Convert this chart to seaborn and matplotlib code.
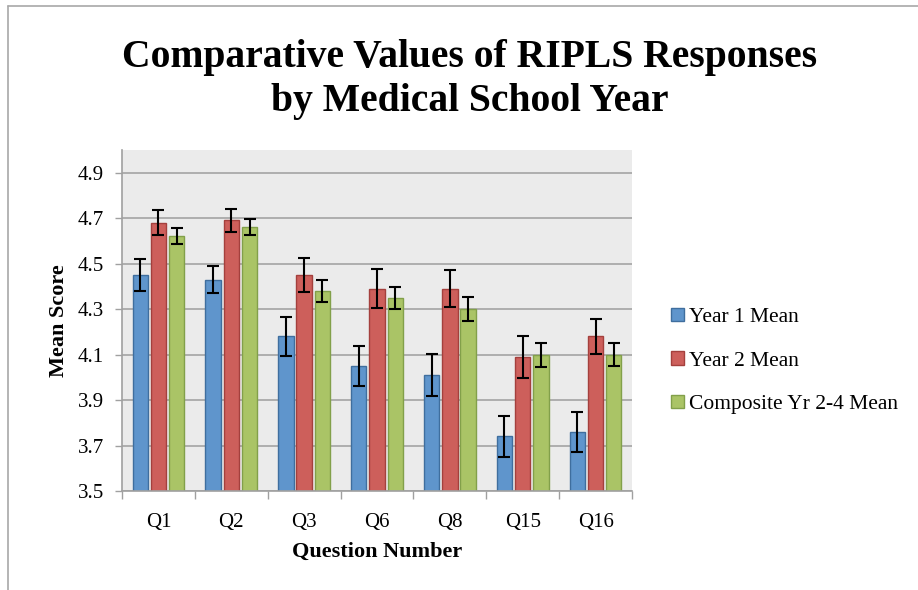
import seaborn as sns
import pandas as pd
import matplotlib.pyplot as plt
from matplotlib.patches import Patch
from matplotlib.lines import Line2D
from matplotlib.ticker import MultipleLocator, FixedLocator

# Data
questions = ['Q1', 'Q2', 'Q3', 'Q6', 'Q8', 'Q15', 'Q16']
series = ['Year 1 Mean', 'Year 2 Mean', 'Composite Yr 2-4 Mean']
year1_mean = [4.45, 4.43, 4.18, 4.05, 4.01, 3.74, 3.76]
year2_mean = [4.68, 4.69, 4.45, 4.39, 4.39, 4.09, 4.18]
composite_mean = [4.62, 4.66, 4.38, 4.35, 4.30, 4.10, 4.10]
year1_err = [0.07, 0.06, 0.085, 0.09, 0.094, 0.09, 0.087]
year2_err = [0.055, 0.052, 0.075, 0.085, 0.08, 0.092, 0.077]
composite_err = [0.035, 0.035, 0.05, 0.048, 0.052, 0.053, 0.052]

means = [year1_mean, year2_mean, composite_mean]
errs = [year1_err, year2_err, composite_err]

fills = ['#5F95CC', '#CD5F5B', '#AAC466']
edges = ['#3F6E9E', '#A4403D', '#82A04A']

df = pd.DataFrame({
    'Question': questions * 3,
    'Series': [s for s in series for _ in questions],
    'Mean': year1_mean + year2_mean + composite_mean,
})

sns.set_style('white')
plt.rcParams['font.family'] = ['Liberation Serif', 'DejaVu Serif']
plt.rcParams['text.color'] = 'black'
plt.rcParams['axes.labelcolor'] = 'black'
plt.rcParams['xtick.labelcolor'] = 'black'
plt.rcParams['ytick.labelcolor'] = 'black'

fig = plt.figure(figsize=(9.18, 5.9), dpi=100)
ax = fig.add_axes([122 / 918, 99 / 590, 510 / 918, 341 / 590])
ax.set_facecolor('#EBEBEB')
ax.set_axisbelow(True)

sns.barplot(data=df, x='Question', y='Mean', hue='Series', order=questions,
            hue_order=series, palette=fills, saturation=1, width=0.75, gap=0.16,
            errorbar=None, legend=False, ax=ax, zorder=2)

# per-series edges and error bars placed on seaborn's bars
for cont, ec, vals, err in zip(ax.containers[:3], edges, means, errs):
    xs = []
    for bar in cont:
        bar.set_edgecolor(ec)
        bar.set_linewidth(1.0)
        xs.append(bar.get_x() + bar.get_width() / 2)
    ax.errorbar(xs, vals, yerr=err, fmt='none', ecolor='black',
                elinewidth=1.5, capsize=4.5, capthick=1.5, zorder=3)

ax.set_ylim(3.5, 5.0)
ax.set_xlim(-0.5, 6.5)
ax.yaxis.set_major_locator(FixedLocator([3.5, 3.7, 3.9, 4.1, 4.3, 4.5, 4.7, 4.9]))
ax.set_yticklabels(['3.5', '3.7', '3.9', '4.1', '4.3', '4.5', '4.7', '4.9'])
ax.grid(axis='y', color='#A3A3A3', linewidth=1.2)
ax.grid(axis='x', visible=False)

ax.xaxis.set_minor_locator(MultipleLocator(1, offset=0.5))
ax.tick_params(axis='x', which='major', length=0, pad=16, labelsize=15)
ax.tick_params(axis='x', which='minor', length=6, width=1, color='#A0A0A0',
               direction='out', bottom=True)
ax.tick_params(axis='y', which='major', length=5, width=1, color='#A0A0A0',
               direction='out', left=True, pad=8, labelsize=15)

for side in ['top', 'right']:
    ax.spines[side].set_visible(False)
for side in ['left', 'bottom']:
    ax.spines[side].set_color('#A0A0A0')
    ax.spines[side].set_linewidth(1.2)

ax.set_xlabel('Question Number', fontsize=16, fontweight='bold', labelpad=7)
ax.set_ylabel('Mean Score', fontsize=16, fontweight='bold', labelpad=6)

fig.text(470 / 918, 1 - 80 / 590,
         'Comparative Values of RIPLS Responses\nby Medical School Year',
         ha='center', va='center', fontsize=28.5, fontweight='bold',
         linespacing=1.25)

handles = [Patch(facecolor=f, edgecolor=e, label=s) for f, e, s in zip(fills, edges, series)]
fig.legend(handles=handles, loc='center left', bbox_to_anchor=(671 / 918, 1 - 361 / 590),
           frameon=False, fontsize=15.5, handlelength=0.6, handleheight=0.6,
           handletextpad=0.25, labelspacing=1.12, borderpad=0, borderaxespad=0)

# outer chart border (top and left edges visible)
fig.add_artist(Line2D([8 / 918, 8 / 918], [0, 1 - 6 / 590], color='#A8A8A8', lw=1.2))
fig.add_artist(Line2D([8 / 918, 1], [1 - 6 / 590, 1 - 6 / 590], color='#A8A8A8', lw=1.2))

fig.savefig('out.png', dpi=100)
